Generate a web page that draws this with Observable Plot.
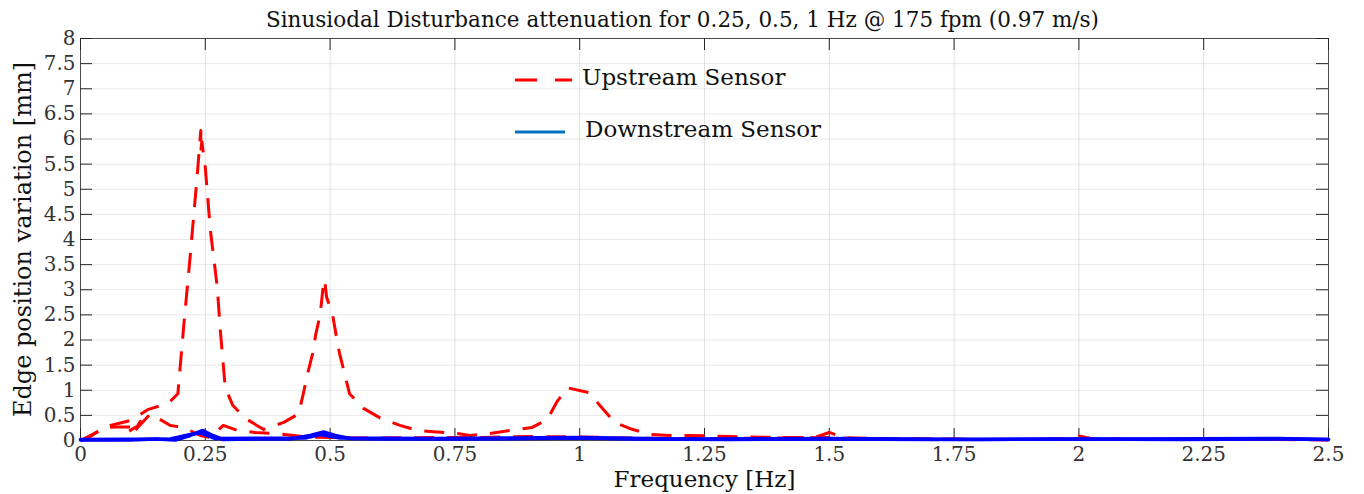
<!DOCTYPE html>
<html>
<head>
<meta charset="utf-8">
<script src="https://cdn.jsdelivr.net/npm/d3@7"></script>
<script src="https://cdn.jsdelivr.net/npm/@observablehq/plot@0.6"></script>
<style>
  body { margin: 0; background: #fff; }
  #wrap { position: relative; width: 1364px; height: 494px; background: #fff; }
  #wrap svg text { font-family: "DejaVu Serif", serif !important; }
  .leg { position: absolute; font-family: "DejaVu Serif", serif; font-size: 23px; color: #111; white-space: nowrap; }
  .legsvg { position: absolute; }
</style>
</head>
<body>
<div id="wrap"></div>
<script>
// ---------- data ----------
const titleText = "Sinusiodal Disturbance attenuation for 0.25, 0.5, 1 Hz @ 175 fpm (0.97 m/s)";
const xLabel = "Frequency [Hz]";
const yLabel = "Edge position variation [mm]";
const seriesNames = ["Upstream Sensor", "Downstream Sensor"];

const xTicks = [0, 0.25, 0.5, 0.75, 1, 1.25, 1.5, 1.75, 2, 2.25, 2.5];
const xTickLabels = ["0", "0.25", "0.5", "0.75", "1", "1.25", "1.5", "1.75", "2", "2.25", "2.5"];
const yTicks = [0, 0.5, 1, 1.5, 2, 2.5, 3, 3.5, 4, 4.5, 5, 5.5, 6, 6.5, 7, 7.5, 8];
const yTickLabels = ["0", "0.5", "1", "1.5", "2", "2.5", "3", "3.5", "4", "4.5", "5", "5.5", "6", "6.5", "7", "7.5", "8"];

// Upstream sensor, main trace (peaks near 0.25, 0.5, 1 Hz)
const upFreqA = [0, 0.03, 0.06, 0.1, 0.136, 0.176, 0.195, 0.207, 0.22, 0.234, 0.241, 0.241, 0.243, 0.25, 0.26, 0.274, 0.28, 0.29, 0.305,
  0.33, 0.367, 0.407, 0.437, 0.447, 0.455, 0.465, 0.471, 0.48, 0.486, 0.489, 0.493, 0.505, 0.513, 0.519, 0.531, 0.539, 0.567,
  0.6, 0.64, 0.675, 0.7, 0.755, 0.78, 0.82, 0.86, 0.905, 0.935, 0.955, 0.975, 1.02, 1.04, 1.07, 1.1, 1.14, 1.18, 1.22,
  1.3, 1.4, 1.47, 1.5, 1.53, 1.6, 1.7, 1.8, 1.9, 1.97, 2.0, 2.03, 2.1, 2.2, 2.3, 2.4, 2.5];
const upValA = [0, 0.15, 0.3, 0.4, 0.62, 0.74, 0.93, 2.3, 3.7, 5.3, 6.17, 5.75, 5.95, 5.43, 4.2, 3.05, 2.2, 1.05, 0.7,
  0.44, 0.22, 0.36, 0.53, 0.96, 1.33, 1.73, 2.1, 2.5, 3.05, 3.2, 2.85, 2.5, 2.05, 1.73, 1.25, 0.93, 0.64,
  0.45, 0.3, 0.2, 0.18, 0.14, 0.1, 0.14, 0.2, 0.26, 0.42, 0.78, 1.05, 0.95, 0.7, 0.36, 0.24, 0.12, 0.1, 0.1,
  0.08, 0.06, 0.06, 0.16, 0.05, 0.04, 0.03, 0.02, 0.02, 0.03, 0.09, 0.03, 0.02, 0.02, 0.02, 0.02, 0.01];

// Upstream sensor, secondary trace (low level)
const upFreqB = [0, 0.02, 0.045, 0.07, 0.1, 0.09, 0.116, 0.12, 0.105, 0.14, 0.18, 0.206, 0.24, 0.26, 0.286, 0.315, 0.35, 0.39, 0.455,
  0.5, 0.55, 0.6, 0.7, 0.8, 0.9, 1.0, 1.1, 1.2, 1.3, 1.4, 1.5, 1.6, 1.7, 1.8, 1.9, 2.0, 2.1, 2.2, 2.3, 2.4, 2.5];
const upValB = [0, 0.08, 0.25, 0.27, 0.27, 0.14, 0.3, 0.38, 0.15, 0.53, 0.3, 0.26, 0.1, 0.06, 0.3, 0.2, 0.16, 0.14, 0.07,
  0.06, 0.05, 0.05, 0.06, 0.06, 0.08, 0.07, 0.05, 0.04, 0.04, 0.05, 0.06, 0.03, 0.03, 0.02, 0.02, 0.04, 0.02, 0.02, 0.03, 0.02, 0.02];

// Downstream sensor traces
const downFreqA = [0, 0.1, 0.15, 0.19, 0.22, 0.245, 0.265, 0.285, 0.35, 0.42, 0.46, 0.487, 0.51, 0.54, 0.6, 0.8, 1.0, 1.1, 1.3, 1.5, 1.7, 2.0, 2.2, 2.4, 2.5];
const downValA = [0.01, 0.01, 0.03, 0.01, 0.1, 0.2, 0.1, 0.02, 0.03, 0.03, 0.1, 0.17, 0.1, 0.04, 0.03, 0.03, 0.05, 0.03, 0.02, 0.03, 0.02, 0.03, 0.02, 0.03, 0.02];
const downFreqB = [0, 0.18, 0.22, 0.24, 0.27, 0.45, 0.48, 0.52, 0.7, 1.0, 1.2, 1.5, 1.8, 2.1, 2.4, 2.5];
const downValB = [0.02, 0.03, 0.12, 0.15, 0.04, 0.05, 0.12, 0.05, 0.04, 0.06, 0.03, 0.04, 0.02, 0.03, 0.04, 0.02];

// ---------- build tables ----------
const toRows = (fs, vs, id) => fs.map((f, i) => ({f, v: vs[i], id}));
const upRows = [...toRows(upFreqA, upValA, "A"), ...toRows(upFreqB, upValB, "B")];
const downRows = [...toRows(downFreqA, downValA, "A"), ...toRows(downFreqB, downValB, "B")];

const W = 1364, H = 494, mL = 80, mR = 36, mT = 38, mB = 54;
const pw = W - mL - mR, ph = H - mT - mB;
const serif = "DejaVu Serif";

const chart = Plot.plot({
  width: W, height: H,
  marginLeft: mL, marginRight: mR, marginTop: mT, marginBottom: mB,
  style: {background: "#fff", fontFamily: serif, fontSize: "20px"},
  x: {domain: [0, 2.5]},
  y: {domain: [0, 8]},
  marks: [
    Plot.gridX(xTicks, {stroke: "#262626", strokeOpacity: 0.13, strokeWidth: 1}),
    Plot.gridY(yTicks, {stroke: "#262626", strokeOpacity: 0.1, strokeWidth: 1}),
    Plot.frame({stroke: "#4a4a4a", strokeWidth: 1}),
    Plot.tickX(xTicks, {x: d => d, insetTop: ph - 12, stroke: "#262626"}),
    Plot.tickX(xTicks, {x: d => d, insetBottom: ph - 12, stroke: "#262626"}),
    Plot.tickY(yTicks, {y: d => d, insetRight: pw - 12, stroke: "#262626"}),
    Plot.tickY(yTicks, {y: d => d, insetLeft: pw - 12, stroke: "#262626"}),
    Plot.axisX(xTicks, {anchor: "bottom", tickSize: 0, tickPadding: 6, label: null,
      tickFormat: (d, i) => xTickLabels[i], fill: "#333", fontFamily: serif, fontSize: 20}),
    Plot.axisY(yTicks, {anchor: "left", tickSize: 0, tickPadding: 5, label: null,
      tickFormat: (d, i) => yTickLabels[i], fill: "#333", fontFamily: serif, fontSize: 20}),
    Plot.line(upRows, {x: "f", y: "v", z: "id", stroke: "#ff0000", strokeWidth: 3,
      strokeDasharray: "20,13", strokeLinejoin: "round", strokeLinecap: "butt"}),
    Plot.line(downRows, {x: "f", y: "v", z: "id", stroke: "#0000ff", strokeWidth: 3.5,
      strokeLinejoin: "round"}),
    Plot.text([titleText], {frameAnchor: "top", lineAnchor: "middle", dx: -22, dy: -18,
      fontFamily: serif, fontSize: 21.5, fill: "#111"}),
    Plot.text([xLabel], {frameAnchor: "bottom", lineAnchor: "middle", textAnchor: "middle", dy: 39,
      fontFamily: serif, fontSize: 23, fill: "#111"}),
    Plot.text([yLabel], {frameAnchor: "left", textAnchor: "middle", lineAnchor: "middle", dx: -57, rotate: -90,
      fontFamily: serif, fontSize: 24, fill: "#111"})
  ]
});

const wrap = document.getElementById("wrap");
wrap.appendChild(chart);

// ---------- legend (inside the plot area, no box) ----------
const legendItems = [
  {name: seriesNames[0], color: "#ff0000", dash: "22,18", top: 64, textLeft: 582, lineLeft: 515},
  {name: seriesNames[1], color: "#0072bd", dash: null, top: 116, textLeft: 585, lineLeft: 515}
];
legendItems.forEach(item => {
  const s = d3.create("svg").attr("class", "legsvg").attr("width", 60).attr("height", 10)
    .style("left", item.lineLeft + "px").style("top", (item.top + 11) + "px");
  s.append("line").attr("x1", 0).attr("x2", item.dash ? 57 : 50).attr("y1", 5).attr("y2", 5)
    .attr("stroke", item.color).attr("stroke-width", 3)
    .attr("stroke-dasharray", item.dash);
  wrap.appendChild(s.node());
  const t = document.createElement("div");
  t.className = "leg";
  t.textContent = item.name;
  t.style.left = item.textLeft + "px";
  t.style.top = item.top + "px";
  wrap.appendChild(t);
});
</script>
</body>
</html>
